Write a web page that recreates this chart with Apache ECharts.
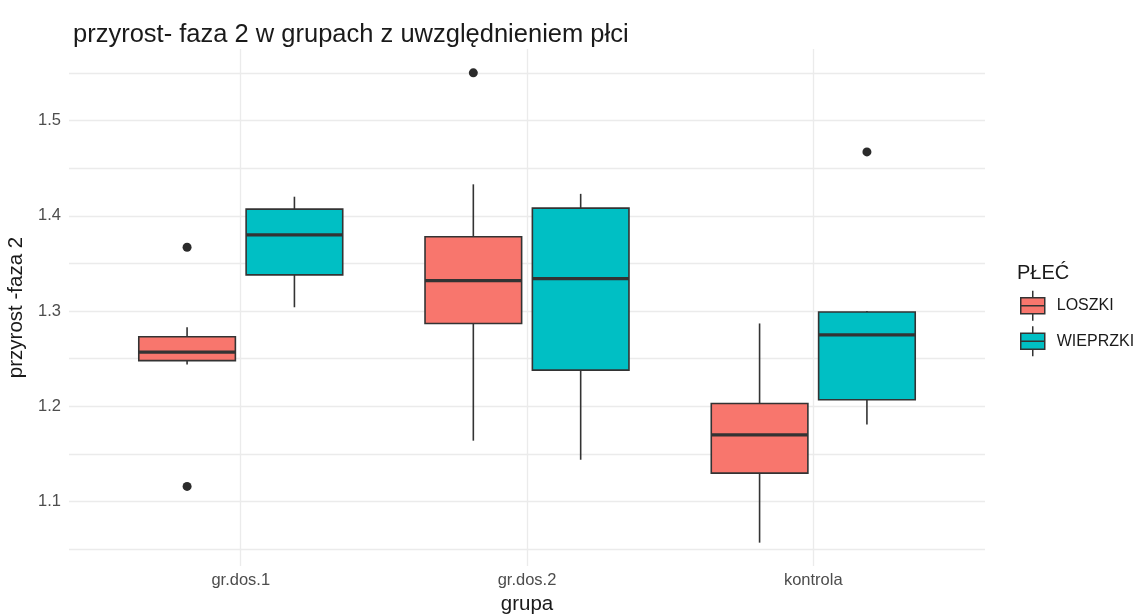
<!DOCTYPE html>
<html>
<head>
<meta charset="utf-8">
<script src="https://cdn.jsdelivr.net/npm/echarts@6/dist/echarts.min.js"></script>
<style>
  html, body { margin: 0; padding: 0; background: #ffffff; }
  #chart { width: 1139px; height: 615px; }
</style>
</head>
<body>
<div id="chart"></div>
<script>
// Groups on the x axis
const categories = ['gr.dos.1', 'gr.dos.2', 'kontrola'];
// Box statistics per group: [lower whisker, Q1, median, Q3, upper whisker]
const loszki = [
  [1.244, 1.248, 1.257, 1.273, 1.283],
  [1.164, 1.287, 1.332, 1.378, 1.433],
  [1.057, 1.130, 1.170, 1.203, 1.287]
];
const wieprzki = [
  [1.304, 1.338, 1.380, 1.407, 1.420],
  [1.144, 1.238, 1.334, 1.408, 1.423],
  [1.181, 1.207, 1.275, 1.299, 1.300]
];
// Outliers: [group index, value]
const loszkiOutliers = [[0, 1.367], [0, 1.116], [1, 1.550]];
const wieprzkiOutliers = [[2, 1.467]];
// Axis ticks
const yGridValues = [1.05, 1.1, 1.15, 1.2, 1.25, 1.3, 1.35, 1.4, 1.45, 1.5, 1.55];
const yLabelValues = [1.1, 1.2, 1.3, 1.4, 1.5];
const seriesNames = ['LOSZKI', 'WIEPRZKI'];
const seriesColors = ['#F8766D', '#00BFC4'];

const DODGE = 0.1875;   // half the dodge width, in category units
const BOX_W = 0.3375;   // box width, in category units
const INK = '#333333';
const GRID = '#ebebeb';

function boxData(stats, shift) {
  return stats.map((s, i) => [i + 1 + shift].concat(s));
}
function outlierData(list, shift) {
  return list.map(o => [o[0] + 1 + shift, o[1]]);
}

function makeRenderer(fill) {
  return function (params, api) {
    const x = api.value(0);
    const lo = api.coord([x, api.value(1)]);
    const q1 = api.coord([x, api.value(2)]);
    const md = api.coord([x, api.value(3)]);
    const q3 = api.coord([x, api.value(4)]);
    const hi = api.coord([x, api.value(5)]);
    const half = api.size([BOX_W, 0])[0] / 2;
    const cx = md[0];
    return {
      type: 'group',
      children: [
        { type: 'line', shape: { x1: cx, y1: hi[1], x2: cx, y2: q3[1] }, style: { stroke: INK, lineWidth: 1.6 } },
        { type: 'line', shape: { x1: cx, y1: q1[1], x2: cx, y2: lo[1] }, style: { stroke: INK, lineWidth: 1.6 } },
        { type: 'rect', shape: { x: cx - half, y: q3[1], width: half * 2, height: q1[1] - q3[1] },
          style: { fill: fill, stroke: INK, lineWidth: 1.6 } },
        { type: 'line', shape: { x1: cx - half, y1: md[1], x2: cx + half, y2: md[1] }, style: { stroke: INK, lineWidth: 3.2 } }
      ]
    };
  };
}

const chart = echarts.init(document.getElementById('chart'), null, { renderer: 'canvas' });
const FONT = '"Liberation Sans", Arial, Helvetica, sans-serif';

const legendIcon = 'path://M0,7 H24 V23 H0 Z M0,15 H24 M12,0 V7 M12,23 V30';

chart.setOption({
  backgroundColor: '#ffffff',
  animation: false,
  textStyle: { fontFamily: FONT },
  title: [
    {
      text: 'przyrost- faza 2 w grupach z uwzględnieniem płci',
      left: 68, top: 17,
      textStyle: { fontFamily: FONT, fontSize: 25.5, fontWeight: 'normal', color: '#1a1a1a' }
    },
    {
      text: 'PŁEĆ',
      left: 1012, top: 258,
      textStyle: { fontFamily: FONT, fontSize: 20, fontWeight: 'normal', color: '#1a1a1a' }
    }
  ],
  legend: {
    orient: 'vertical',
    left: 1015, top: 285,
    itemWidth: 24, itemHeight: 30, itemGap: 4,
    icon: legendIcon,
    textStyle: { fontFamily: FONT, fontSize: 16, color: '#1a1a1a', padding: [0, 0, 0, 7] },
    data: seriesNames.map((n, i) => ({
      name: n,
      itemStyle: { color: seriesColors[i], borderColor: INK, borderWidth: 1.5 }
    }))
  },
  grid: { left: 69, top: 49, width: 916, height: 517, containLabel: false, outerBoundsMode: 'none' },
  xAxis: {
    type: 'value',
    min: 0.4, max: 3.6,
    name: 'grupa',
    nameLocation: 'middle',
    nameGap: 27,
    nameTextStyle: { fontFamily: FONT, fontSize: 20.5, color: '#1a1a1a' },
    axisLine: { show: false },
    axisTick: { show: false, customValues: [1, 2, 3] },
    axisLabel: {
      customValues: [1, 2, 3],
      formatter: v => categories[Math.round(v) - 1],
      margin: 6,
      fontFamily: FONT, fontSize: 16.5, color: '#4d4d4d'
    },
    splitLine: { show: true, lineStyle: { color: GRID, width: 1.3 } }
  },
  yAxis: {
    type: 'value',
    min: 1.0325, max: 1.575,
    name: 'przyrost -faza 2',
    nameLocation: 'middle',
    nameGap: 35,
    nameRotate: 90,
    nameTextStyle: { fontFamily: FONT, fontSize: 20.5, color: '#1a1a1a' },
    axisLine: { show: false },
    axisTick: { show: false, customValues: yGridValues },
    axisLabel: {
      customValues: yLabelValues,
      formatter: v => v.toFixed(1),
      margin: 8,
      fontFamily: FONT, fontSize: 16.5, color: '#4d4d4d'
    },
    splitLine: { show: true, lineStyle: { color: GRID, width: 1.3 } }
  },
  series: [
    {
      name: seriesNames[0], type: 'custom',
      renderItem: makeRenderer(seriesColors[0]),
      itemStyle: { color: seriesColors[0] },
      encode: { x: 0, y: [1, 2, 3, 4, 5] },
      data: boxData(loszki, -DODGE), z: 2
    },
    {
      name: seriesNames[1], type: 'custom',
      renderItem: makeRenderer(seriesColors[1]),
      itemStyle: { color: seriesColors[1] },
      encode: { x: 0, y: [1, 2, 3, 4, 5] },
      data: boxData(wieprzki, DODGE), z: 2
    },
    {
      name: 'LOSZKI outliers', type: 'scatter',
      symbolSize: 9, itemStyle: { color: '#2b2b2b', opacity: 1 },
      data: outlierData(loszkiOutliers, -DODGE), z: 3
    },
    {
      name: 'WIEPRZKI outliers', type: 'scatter',
      symbolSize: 9, itemStyle: { color: '#2b2b2b', opacity: 1 },
      data: outlierData(wieprzkiOutliers, DODGE), z: 3
    }
  ]
});
</script>
</body>
</html>
